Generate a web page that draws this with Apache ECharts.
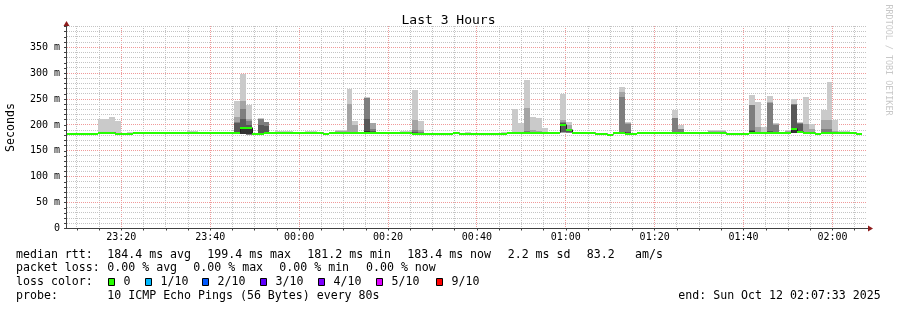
<!DOCTYPE html>
<html><head><meta charset="utf-8">
<script src="https://cdn.jsdelivr.net/npm/echarts@6/dist/echarts.min.js"></script>
<style>html,body{margin:0;padding:0;background:#fff}#c{width:897px;height:310px}</style>
</head><body><div id="c"></div>
<script>
// ---------------- DATA ----------------
// x values are minutes after 23:00 (local); the graph spans 23:07:33 .. 02:07:33
const axisStartMin = 7.55;
const axisEndMin = 187.55;
const firstStepEndMin = 8;      // 23:08:00, end of first (partly visible) 80 s step
const stepSeconds = 80;

// median RTT (ms) per 80 s step
const median = [
  183, 183, 183, 183, 181.5, 183, 185.3, 185.3, 183.5, 183, 183, 183,
  185.3, 185.3, 185.3, 185.3, 185.3, 185.3, 185.3, 185.3, 185.3, 185.3, 185.3, 185.3, 185.3, 185.3, 185.3, 185.3, 185.3, 185.3,
  193.5, 193.5, 182.4, 182.4,
  185.3, 185.3, 185.3, 185.3, 185.3, 185.3, 185.3, 185.3, 185.3, 185.3,
  182.2,
  185.3, 185.3, 185.3, 185.3, 185.3, 185.3, 185.3, 185.3, 185.3, 185.3, 185.3, 185.3, 185.3, 185.3,
  182.4, 182.4, 182.4, 182.4, 182.4, 182.4, 182.4,
  185,
  182.4, 182.4, 182.4, 182.4, 182.4, 182.4, 182.4, 182.4,
  185.3, 185.3, 185.3, 185.3, 185.3, 185.3, 185.3, 185.3, 185.3,
  199.4, 190,
  185.3, 185.3, 185.3, 185.3,
  182.4, 182.4, 181.2, 184, 185,
  182.4, 182.4,
  185.3, 185.3, 185.3, 185.3, 185.3, 185.3, 185.3, 185.3, 185.3, 185.3, 185.3, 185.3, 185.3, 185.3, 185.3,
  182.4, 182.4, 182.4, 182.4,
  185.3, 185.3, 185.3, 185.3, 185.3, 185.3, 185.3,
  192, 187, 185.3, 185.3,
  182.4,
  185.3, 185.3, 185.3, 185.3, 185.3, 185.3,
  183.4
];

// steps (index into median) whose 10 pings spread visibly ("smoke")
const smokeStep = [6, 7, 8, 9, 11, 21, 22, 29, 30, 31, 33, 34, 36, 37, 38, 41, 42, 46, 47, 48, 49, 51, 52, 57, 58, 59, 60,
  68, 74, 76, 77, 78, 79, 80, 81, 84, 85, 94, 95, 97, 98, 103, 104, 109, 110, 111,
  116, 117, 118, 119, 120, 122, 123, 124, 125, 126, 128, 129, 130, 131, 132];
// the 10 ping RTTs (ms) of those steps
const smokePings = [
  [183,184,184,185,185,185,186,186,187,211],
  [183,184,184,185,185,185,186,186,187,211],
  [182,183,183,183,183,184,184,185,187,215],
  [182,182,183,183,183,183,184,184,185,207],
  [181,182,182,182,183,183,183,184,184,186],
  [184,185,185,185,185,186,186,186,187,188],
  [184,185,185,185,185,186,186,186,187,188],
  [183,184,184,185,185,186,204,205,215,246],
  [182,182,183,183,183,196,212,230,246,298],
  [181,181,181,182,183,196,200,208,212,239],
  [181,182,182,183,183,184,200,211,212,214],
  [184,184,185,185,186,186,197,205,206,206],
  [184,185,185,185,185,186,186,186,187,188],
  [184,185,185,185,185,186,186,186,187,188],
  [184,185,185,185,185,186,186,186,187,188],
  [184,185,185,185,185,186,186,186,187,188],
  [184,185,185,185,185,186,186,186,187,188],
  [184,185,185,185,185,186,186,187,189,191],
  [184,185,185,185,185,186,186,187,188,190],
  [184,185,185,185,185,186,186,187,240,269],
  [184,185,185,185,185,186,186,187,199,207],
  [184,185,185,185,186,188,211,251,252,254],
  [184,185,185,185,185,186,188,192,203,204],
  [184,185,185,185,185,186,186,186,187,188],
  [184,185,185,185,185,186,186,186,187,188],
  [180,181,181,181,182,183,186,191,209,267],
  [180,181,181,181,182,183,185,186,190,207],
  [180,181,181,181,182,182,183,183,184,186],
  [180,181,181,181,182,182,183,183,184,186],
  [184,184,185,185,185,186,186,186,187,230],
  [184,184,185,185,185,186,186,186,187,204],
  [184,184,185,185,185,186,186,188,232,286],
  [184,184,185,185,185,186,186,187,190,215],
  [184,184,185,185,185,186,186,187,189,213],
  [184,184,185,185,185,186,186,186,187,194],
  [184,185,186,186,197,200,203,205,209,259],
  [184,185,185,186,189,190,191,193,199,205],
  [183,184,184,185,185,186,186,254,264,273],
  [180,181,181,182,182,183,186,201,203,205],
  [184,185,185,185,185,186,186,186,186,187],
  [184,185,185,185,185,186,186,186,186,187],
  [184,184,185,185,185,186,186,213,214,228],
  [184,184,185,185,185,186,186,193,193,199],
  [184,185,185,185,185,186,186,187,188,190],
  [184,185,185,185,185,186,186,187,188,190],
  [184,185,185,185,185,186,186,187,188,190],
  [184,184,185,185,186,188,190,238,239,258],
  [184,184,185,185,185,186,186,187,196,244],
  [184,184,185,185,185,186,186,186,187,195],
  [184,184,185,185,185,186,189,243,244,255],
  [184,184,185,185,185,186,187,200,201,203],
  [184,184,185,185,185,186,186,187,188,191],
  [184,184,185,185,185,193,239,240,241,250],
  [184,184,185,185,185,188,202,203,204,205],
  [184,184,185,185,185,186,186,187,201,253],
  [184,184,185,185,185,186,186,187,192,202],
  [184,184,185,185,185,186,187,192,210,229],
  [184,184,185,185,185,186,187,192,209,283],
  [184,184,185,185,185,186,186,186,188,209],
  [184,185,185,185,185,186,186,187,187,188],
  [184,185,185,185,185,186,186,187,187,188]
];

const yMax = 390;
const yLabelValues = [0, 50, 100, 150, 200, 250, 300, 350];
const xLabelMinutes = [20, 40, 60, 80, 100, 120, 140, 160, 180];
const xLabels = ['23:20', '23:40', '00:00', '00:20', '00:40', '01:00', '01:20', '01:40', '02:00'];
const xGridMinutes = [10,15,20,25,30,35,40,45,50,55,60,65,70,75,80,85,90,95,100,105,110,115,120,125,130,135,140,145,150,155,160,165,170,175,180,185];
const yGridValues = [10,20,30,40,50,60,70,80,90,100,110,120,130,140,150,160,170,180,190,200,210,220,230,240,250,260,270,280,290,300,310,320,330,340,350,360,370,380,390];

const medianStats = ['184.4 ms avg', '199.4 ms max', '181.2 ms min', '183.4 ms now', '2.2 ms sd', '83.2', 'am/s'];
const lossStats = ['0.00 % avg', '0.00 % max', '0.00 % min', '0.00 % now'];
const lossLabels = ['0', '1/10', '2/10', '3/10', '4/10', '5/10', '9/10'];
const lossColors = ['#26ff00', '#00b8ff', '#0059ff', '#5e00ff', '#7e00ff', '#dd00ff', '#ff0000'];
const probeText = '10 ICMP Echo Pings (56 Bytes) every 80s';
const endText = 'end: Sun Oct 12 02:07:33 2025';

// ---------------- BUILD ----------------
const FONT = '"DejaVu Sans Mono", monospace';
const SHADES = ['#cacaca', '#a4a4a4', '#7e7e7e', '#585858', '#323232'];
const GRID_GRAY = '#c4c4c4';
const GRID_RED = '#f09a9a';
const stepMin = stepSeconds / 60;
const stepEnd = i => firstStepEndMin + i * stepMin;

const smokeItems = [];
smokeStep.forEach((i, n) => {
  const p = smokePings[n].slice().sort((a, b) => a - b);
  for (let b = 0; b < 5; b++) smokeItems.push([stepEnd(i) - stepMin, stepEnd(i), p[b], p[9 - b], b]);
});
const medianItems = median.map((m, i) => [stepEnd(i) - stepMin, stepEnd(i), m, i > 0 ? median[i - 1] : m]);

const chart = echarts.init(document.getElementById('c'), null, {renderer: 'canvas'});

function clampX(x, cs) { return Math.min(Math.max(x, cs.x), cs.x + cs.width); }

const option = {
  animation: false,
  backgroundColor: '#fff',
  title: {
    text: 'Last 3 Hours', left: 'center', top: 9,
    textStyle: {fontFamily: FONT, fontSize: 13, fontWeight: 'normal', color: '#000'}
  },
  grid: {left: 66, top: 26.5, width: 800, height: 202, containLabel: false},
  xAxis: {
    type: 'value', min: axisStartMin, max: axisEndMin,
    axisLine: {show: false},
    splitLine: {show: false},
    axisTick: {show: true, customValues: xGridMinutes, length: 2, lineStyle: {color: '#404040'}},
    axisLabel: {
      customValues: xLabelMinutes, margin: 4,
      fontFamily: FONT, fontSize: 10, color: '#000',
      formatter: v => xLabels[xLabelMinutes.indexOf(Math.round(v))] || ''
    }
  },
  yAxis: {
    type: 'value', min: 0, max: yMax, interval: 10,
    axisLine: {show: false},
    splitLine: {show: false},
    axisTick: {show: true, length: 2, lineStyle: {color: '#404040'}},
    axisLabel: {
      customValues: yLabelValues, margin: 6,
      fontFamily: FONT, fontSize: 10, color: '#000',
      formatter: v => v === 0 ? '0' : v + ' m'
    }
  },
  series: [
    { // vertical grid
      type: 'custom', silent: true, z: 1,
      data: xGridMinutes.map(v => [v, 0]),
      encode: {x: 0, y: 1},
      renderItem(params, api) {
        const cs = params.coordSys;
        const v = api.value(0);
        const x = Math.floor(api.coord([v, 0])[0]) + 0.5;
        return {type: 'line', shape: {x1: x, y1: Math.floor(cs.y), x2: x, y2: Math.floor(cs.y + cs.height)},
          style: {stroke: v % 20 === 0 ? GRID_RED : GRID_GRAY, lineWidth: 1, lineDash: [1, 1]}};
      }
    },
    { // horizontal grid
      type: 'custom', silent: true, z: 1,
      data: yGridValues.map(v => [axisStartMin, v]),
      encode: {x: 0, y: 1},
      renderItem(params, api) {
        const cs = params.coordSys;
        const v = api.value(1);
        const y = Math.floor(api.coord([axisStartMin, v])[1]) + 0.5;
        return {type: 'line', shape: {x1: Math.ceil(cs.x) + 1, y1: y, x2: Math.floor(cs.x + cs.width), y2: y},
          style: {stroke: v % 50 === 0 ? GRID_RED : GRID_GRAY, lineWidth: 1, lineDash: [1, 1]}};
      }
    },
    { // smoke
      type: 'custom', silent: true, z: 2,
      data: smokeItems,
      encode: {x: [0, 1], y: [2, 3]},
      renderItem(params, api) {
        const cs = params.coordSys;
        const a = api.coord([api.value(0), api.value(3)]);
        const b = api.coord([api.value(1), api.value(2)]);
        const x0 = clampX(Math.round(a[0]), cs), x1 = clampX(Math.round(b[0]), cs);
        const y0 = Math.round(a[1]), y1 = Math.round(b[1]);
        return {type: 'rect', shape: {x: x0, y: y0, width: x1 - x0, height: Math.max(y1 - y0, 0)},
          style: {fill: SHADES[api.value(4)]}};
      }
    },
    { // thin median line
      type: 'custom', silent: true, z: 3,
      data: medianItems,
      encode: {x: [0, 1], y: [2, 3]},
      renderItem(params, api) {
        const cs = params.coordSys;
        const a = api.coord([api.value(0), api.value(2)]);
        const b = api.coord([api.value(1), api.value(2)]);
        const c = api.coord([api.value(0), api.value(3)]);
        const x0 = clampX(Math.round(a[0]), cs) + 0.5, x1 = clampX(Math.round(b[0]), cs);
        const y = Math.round(a[1]) - 0.5, yp = Math.round(c[1]) - 0.5;
        return {type: 'polyline', shape: {points: [[x0, yp], [x0, y], [x1, y]]},
          style: {stroke: '#202020', lineWidth: 1, fill: null}};
      }
    },
    { // median band coloured by packet loss
      type: 'custom', silent: true, z: 4,
      data: medianItems,
      encode: {x: [0, 1], y: [2, 3]},
      renderItem(params, api) {
        const cs = params.coordSys;
        const a = api.coord([api.value(0), api.value(2)]);
        const b = api.coord([api.value(1), api.value(2)]);
        const x0 = clampX(Math.round(a[0]), cs), x1 = clampX(Math.round(b[0]), cs);
        const y = Math.round(a[1]) - 1;
        return {type: 'rect', shape: {x: x0, y: y, width: x1 - x0, height: 2}, style: {fill: lossColors[0]}};
      }
    }
  ]
};
chart.setOption(option);

// axes, arrows and legend texts
const bl = chart.convertToPixel({gridIndex: 0}, [axisStartMin, 0]);
const tr = chart.convertToPixel({gridIndex: 0}, [axisEndMin, yMax]);
const ax = Math.floor(bl[0]) + 0.5, ay = Math.floor(bl[1]) + 0.5;
const rightX = Math.round(tr[0]) + 2, topY = Math.round(tr[1]);
const AXIS = '#404040', ARROW = '#8e1c1c';
const txt = (text, x, y, extra) => Object.assign({type: 'text', silent: true, z: 100,
  style: {text: text, x: x, y: y, font: '11.6px ' + FONT, fill: '#000', verticalAlign: 'middle', align: 'left'}}, extra || {});

const g = [
  {type: 'line', silent: true, z: 90, shape: {x1: ax - 0.5, y1: ay, x2: rightX, y2: ay}, style: {stroke: AXIS, lineWidth: 1}},
  {type: 'line', silent: true, z: 90, shape: {x1: ax, y1: ay + 0.5, x2: ax, y2: topY - 1}, style: {stroke: AXIS, lineWidth: 1}},
  {type: 'polygon', silent: true, z: 91, shape: {points: [[rightX, ay - 3], [rightX + 5, ay], [rightX, ay + 3]]}, style: {fill: ARROW}},
  {type: 'polygon', silent: true, z: 91, shape: {points: [[ax - 3, topY], [ax, topY - 5], [ax + 3, topY]]}, style: {fill: ARROW}},
  {type: 'text', silent: true, z: 100, rotation: Math.PI / 2, x: 11, y: (bl[1] + tr[1]) / 2,
    style: {text: 'Seconds', font: '11.6px ' + FONT, fill: '#000', align: 'center', verticalAlign: 'middle'}},
  {type: 'text', silent: true, z: 100, rotation: -Math.PI / 2, x: 888, y: 60,
    style: {text: 'RRDTOOL / TOBI OETIKER', font: '8.4px ' + FONT, fill: '#c8c8c8', align: 'center', verticalAlign: 'middle'}},
  txt('median rtt:', 16, 254.6),
  txt('packet loss:', 16, 268.2),
  txt('loss color:', 16, 282),
  txt('probe:', 16, 295.6),
  txt(probeText, 107.3, 295.6),
  txt(endText, 678.3, 295.6)
];
const medX = [107.3, 207.3, 307.3, 407.3, 507.7, 586.7, 635];
medianStats.forEach((s, i) => g.push(txt(s, medX[i], 254.6)));
const lossX = [107.3, 193.3, 279.3, 366];
lossStats.forEach((s, i) => g.push(txt(s, lossX[i], 268.2)));
const boxX = [108.5, 145.5, 202.5, 260.5, 318.5, 376.5, 436.5];
lossLabels.forEach((s, i) => {
  g.push({type: 'rect', silent: true, z: 100, shape: {x: boxX[i], y: 278.5, width: 6, height: 7},
    style: {fill: lossColors[i], stroke: '#000', lineWidth: 1}});
  g.push(txt(s, boxX[i] + 15, 282));
});
chart.setOption({graphic: g});
</script>
</body></html>
